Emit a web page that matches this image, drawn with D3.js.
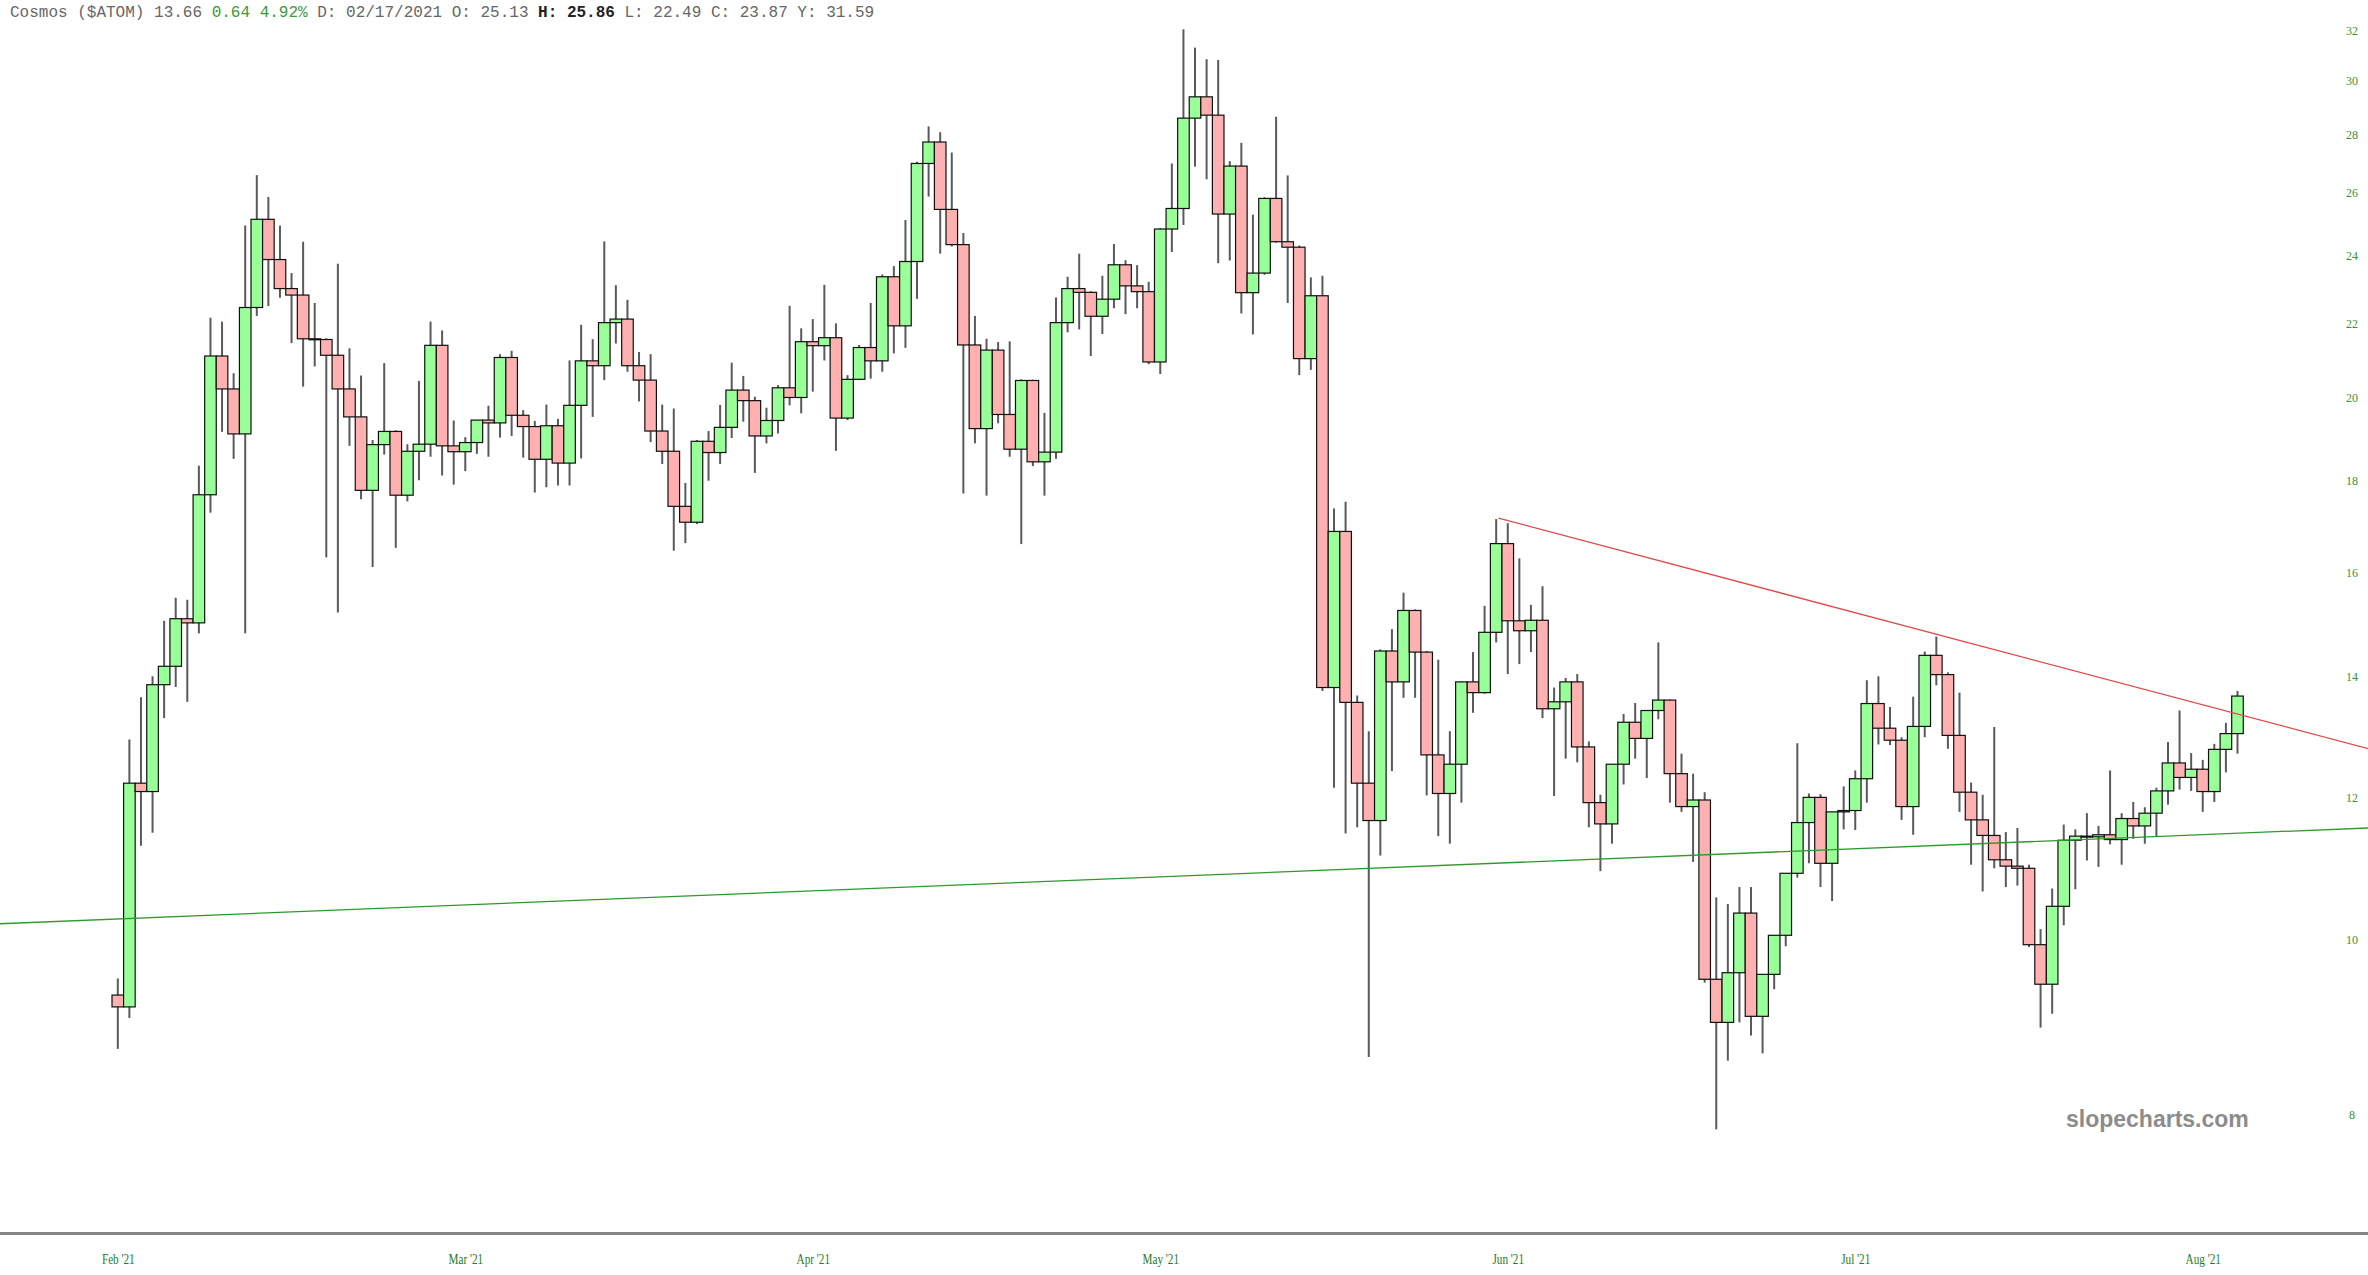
<!DOCTYPE html>
<html>
<head>
<meta charset="utf-8">
<script src="https://cdn.jsdelivr.net/npm/d3@7"></script>
<style>
  html, body { margin: 0; padding: 0; background: #ffffff; }
  svg { display: block; }
</style>
</head>
<body>
<svg id="chart" width="2368" height="1275"></svg>
<script>
// ---- Data (Cosmos $ATOM daily, Feb 4 2021 .. Aug 6 2021) ----
const opens = [
  9.32, 9.18, 12.22, 12.09, 13.86, 14.19, 15.08, 15.00, 17.67, 21.10,
  20.23, 19.10, 22.45, 25.13, 23.87, 23.00, 22.81, 21.57, 21.55, 21.12,
  20.23, 19.52, 17.77, 18.84, 19.16, 17.66, 18.68, 18.85, 21.39, 18.81,
  18.67, 18.89, 19.44, 19.37, 21.06, 19.56, 19.28, 18.49, 19.30, 18.40,
  19.81, 20.97, 20.84, 22.02, 22.12, 20.84, 20.46, 19.17, 18.68, 17.41,
  17.06, 18.92, 18.65, 19.26, 20.20, 19.93, 19.05, 19.43, 20.26, 20.01,
  21.49, 21.38, 21.60, 19.49, 20.48, 21.33, 20.97, 23.35, 21.93, 23.81,
  26.99, 27.74, 25.45, 24.33, 21.40, 19.23, 21.26, 19.58, 18.73, 20.45,
  18.43, 18.66, 22.02, 23.00, 22.89, 22.20, 22.69, 23.71, 23.08, 22.91,
  20.94, 24.82, 25.48, 28.60, 29.39, 28.71, 25.30, 26.90, 22.88, 23.46,
  25.81, 24.42, 24.25, 21.03, 22.79, 13.81, 16.86, 13.55, 12.22, 11.65,
  14.47, 13.91, 15.24, 14.45, 12.67, 12.06, 12.52, 13.91, 13.72, 14.82,
  16.60, 15.04, 14.85, 15.05, 13.44, 13.56, 13.91, 12.80, 11.92, 11.60,
  12.52, 13.21, 12.94, 13.41, 13.59, 12.37, 11.86, 11.96, 9.51, 9.00,
  9.59, 10.35, 9.07, 9.57, 10.06, 10.89, 11.62, 12.00, 11.03, 11.78,
  11.80, 12.29, 13.53, 13.11, 12.91, 11.86, 13.14, 14.39, 14.04, 12.99,
  12.08, 11.66, 11.43, 11.08, 10.99, 10.96, 9.94, 9.45, 10.44, 11.36,
  11.42, 11.41, 11.44, 11.37, 11.68, 11.57, 11.76, 12.10, 12.54, 12.31,
  12.44, 12.09, 12.76, 13.02
];
const highs = [
  9.52, 12.92, 13.64, 14.01, 15.04, 15.49, 15.45, 18.34, 22.16, 22.05,
  20.64, 24.93, 26.59, 25.86, 24.93, 23.46, 24.42, 22.58, 21.58, 23.74,
  21.31, 20.58, 18.95, 20.91, 19.19, 18.85, 20.44, 22.05, 21.80, 19.43,
  19.02, 19.44, 19.80, 21.15, 21.24, 19.69, 19.42, 19.83, 19.47, 20.98,
  21.96, 21.56, 24.43, 23.10, 22.67, 21.21, 21.15, 19.83, 19.73, 17.94,
  18.95, 19.17, 19.82, 20.92, 20.57, 20.03, 19.75, 20.33, 22.50, 21.86,
  22.12, 23.11, 22.00, 20.59, 21.40, 22.58, 23.42, 23.67, 25.11, 27.05,
  28.30, 28.09, 27.37, 24.69, 22.21, 21.57, 21.48, 21.50, 20.48, 20.47,
  19.62, 22.74, 23.35, 24.05, 22.92, 23.38, 24.35, 23.85, 23.70, 23.20,
  24.85, 26.99, 32.04, 31.30, 30.84, 30.81, 27.07, 27.71, 25.28, 25.85,
  28.65, 26.58, 24.30, 23.33, 23.38, 17.36, 17.51, 13.67, 13.06, 14.50,
  14.88, 15.59, 15.26, 14.47, 14.31, 13.06, 13.92, 14.45, 15.33, 17.13,
  17.04, 16.29, 15.35, 15.72, 13.81, 13.98, 14.05, 12.89, 12.04, 12.52,
  13.35, 13.54, 13.41, 14.63, 13.60, 12.69, 12.37, 12.08, 10.56, 10.47,
  10.70, 10.70, 9.57, 10.06, 10.89, 12.86, 12.06, 12.05, 11.78, 12.17,
  12.42, 13.94, 14.01, 13.47, 12.96, 13.65, 14.46, 14.74, 14.08, 13.72,
  12.23, 12.04, 13.13, 11.48, 11.54, 11.01, 10.14, 10.68, 11.59, 11.52,
  11.76, 11.57, 12.42, 11.76, 11.93, 11.85, 12.15, 12.88, 13.41, 12.70,
  12.59, 12.85, 13.20, 13.75
];
const lows = [
  8.70, 9.05, 11.28, 11.47, 13.28, 13.82, 13.56, 14.80, 17.27, 19.15,
  18.50, 14.80, 22.21, 22.49, 22.73, 21.45, 20.29, 20.82, 16.31, 15.20,
  18.81, 17.57, 16.11, 18.60, 16.51, 17.52, 18.00, 18.55, 18.11, 17.90,
  18.21, 18.62, 18.55, 19.01, 19.05, 18.53, 17.72, 17.84, 17.88, 17.88,
  18.51, 19.52, 20.46, 21.44, 20.68, 19.91, 18.90, 18.38, 16.45, 16.61,
  17.02, 17.99, 18.38, 19.00, 19.40, 18.17, 18.87, 19.11, 19.81, 19.61,
  20.16, 20.98, 18.69, 19.44, 20.46, 20.50, 20.68, 21.17, 21.32, 22.70,
  25.87, 24.05, 24.27, 17.70, 18.87, 17.65, 19.36, 18.55, 16.59, 18.33,
  17.65, 18.50, 21.75, 21.83, 21.10, 21.70, 22.43, 22.26, 22.43, 20.88,
  20.62, 24.10, 24.95, 26.88, 26.45, 23.76, 23.84, 22.28, 21.69, 23.41,
  24.39, 22.58, 20.59, 20.73, 13.75, 12.15, 11.46, 11.55, 8.61, 11.14,
  12.41, 13.63, 13.63, 12.03, 11.42, 11.31, 11.92, 13.37, 13.70, 14.63,
  14.05, 14.23, 14.45, 13.28, 12.02, 12.61, 12.55, 11.55, 10.92, 11.31,
  12.20, 12.61, 12.30, 13.26, 11.92, 11.78, 11.05, 9.47, 7.85, 8.57,
  9.00, 8.85, 8.65, 9.39, 9.92, 10.83, 11.03, 10.70, 10.51, 11.52,
  11.51, 11.92, 12.84, 12.83, 11.66, 11.44, 12.96, 13.85, 12.77, 11.78,
  11.01, 10.64, 10.96, 10.70, 10.72, 9.91, 8.94, 9.10, 10.19, 10.67,
  11.07, 10.98, 11.30, 11.01, 11.38, 11.31, 11.42, 11.89, 12.12, 12.10,
  11.78, 11.93, 12.39, 12.69
];
const closes = [
  9.18, 12.22, 12.09, 13.86, 14.19, 15.08, 15.00, 17.67, 21.10, 20.23,
  19.10, 22.45, 25.13, 23.87, 23.00, 22.81, 21.57, 21.55, 21.12, 20.23,
  19.52, 17.77, 18.84, 19.16, 17.66, 18.68, 18.85, 21.39, 18.81, 18.67,
  18.89, 19.44, 19.37, 21.06, 19.56, 19.28, 18.49, 19.30, 18.40, 19.81,
  20.97, 20.84, 22.02, 22.12, 20.84, 20.46, 19.17, 18.68, 17.41, 17.06,
  18.92, 18.65, 19.26, 20.20, 19.93, 19.05, 19.43, 20.26, 20.01, 21.49,
  21.38, 21.60, 19.49, 20.48, 21.33, 20.97, 23.35, 21.93, 23.81, 26.99,
  27.74, 25.45, 24.33, 21.40, 19.23, 21.26, 19.58, 18.73, 20.45, 18.43,
  18.66, 22.02, 23.00, 22.89, 22.20, 22.69, 23.71, 23.08, 22.91, 20.94,
  24.82, 25.48, 28.60, 29.39, 28.71, 25.30, 26.90, 22.88, 23.46, 25.81,
  24.42, 24.25, 21.03, 22.79, 13.81, 16.86, 13.55, 12.22, 11.65, 14.47,
  13.91, 15.24, 14.45, 12.67, 12.06, 12.52, 13.91, 13.72, 14.82, 16.60,
  15.04, 14.85, 15.05, 13.44, 13.56, 13.91, 12.80, 11.92, 11.60, 12.52,
  13.21, 12.94, 13.41, 13.59, 12.37, 11.86, 11.96, 9.51, 9.00, 9.59,
  10.35, 9.07, 9.57, 10.06, 10.89, 11.62, 12.00, 11.03, 11.78, 11.80,
  12.29, 13.53, 13.11, 12.91, 11.86, 13.14, 14.39, 14.04, 12.99, 12.08,
  11.66, 11.43, 11.08, 10.99, 10.96, 9.94, 9.45, 10.44, 11.36, 11.42,
  11.41, 11.44, 11.37, 11.68, 11.57, 11.76, 12.10, 12.54, 12.31, 12.44,
  12.09, 12.76, 13.02, 13.66
];

const yTickValues = [8, 10, 12, 14, 16, 18, 20, 22, 24, 26, 28, 30, 32];
const xTickIndex = [0, 30, 60, 90, 120, 150, 180];
const xTickLabels = ["Feb '21", "Mar '21", "Apr '21", "May '21", "Jun '21", "Jul '21", "Aug '21"];

// trend lines: [candle index, price]
const redTrend = [[119.2, 17.15], [194.3, 12.77]];
const greenTrend = [[-10.17, 10.21], [194.3, 11.54]];

const headerParts = [
  { text: "Cosmos ($ATOM) 13.66 ", cls: "g" },
  { text: "0.64 4.92%", cls: "up" },
  { text: " D: 02/17/2021 O: 25.13 ", cls: "g" },
  { text: "H: 25.86", cls: "b" },
  { text: " L: 22.49 C: 23.87 Y: 31.59", cls: "g" }
];

// ---- Drawing ----
const W = 2368, H = 1275;
const svg = d3.select("#chart");
const n = opens.length;
const step = 11.583;
const x = d3.scaleLinear().domain([0, n - 1]).range([117.8, 117.8 + step * (n - 1)]);
const y = d3.scaleLog().domain([8, 32]).range([1114.5, 30.3]);

const candles = d3.range(n).map(i => ({ i, o: opens[i], h: highs[i], l: lows[i], c: closes[i] }));

// wicks
svg.append("g").selectAll("line").data(candles).join("line")
  .attr("x1", d => x(d.i)).attr("x2", d => x(d.i))
  .attr("y1", d => y(d.h)).attr("y2", d => y(d.l))
  .attr("stroke", "#5a5a5a").attr("stroke-width", 2);

// bodies
const bw = step;
svg.append("g").selectAll("rect").data(candles).join("rect")
  .attr("x", d => x(d.i) - bw / 2)
  .attr("width", bw)
  .attr("y", d => y(Math.max(d.o, d.c)))
  .attr("height", d => Math.max(1, Math.abs(y(d.o) - y(d.c))))
  .attr("fill", d => d.c >= d.o ? "#99ff99" : "#ffb0b0")
  .attr("stroke", "#111")
  .attr("stroke-width", 1.2);

// trend lines
const line = d3.line().x(d => x(d[0])).y(d => y(d[1]));
svg.append("path").datum(greenTrend).attr("d", line)
  .attr("fill", "none").attr("stroke", "#2e9a2e").attr("stroke-width", 1.3);
svg.append("path").datum(redTrend).attr("d", line)
  .attr("fill", "none").attr("stroke", "#e04848").attr("stroke-width", 1.3);

// y axis labels (right)
const yAxis = d3.axisRight(y).tickValues(yTickValues).tickFormat(d3.format("d")).tickSize(0);
const gy = svg.append("g").attr("transform", "translate(2340,0)").call(yAxis);
gy.select(".domain").remove();
gy.selectAll("text")
  .attr("x", 12).attr("dy", "0.32em")
  .attr("text-anchor", "middle")
  .attr("fill", "#3b8f3b")
  .style("font-family", "'Liberation Serif', serif")
  .style("font-size", "12px");

// x axis baseline
svg.append("line").attr("x1", 0).attr("x2", W).attr("y1", 1233.5).attr("y2", 1233.5)
  .attr("stroke", "#858585").attr("stroke-width", 3);

// x axis labels
const xAxis = d3.axisBottom(x).tickValues(xTickIndex)
  .tickFormat((d, k) => xTickLabels[k]).tickSize(0);
const gx = svg.append("g").attr("transform", "translate(0,1236)").call(xAxis);
gx.select(".domain").remove();
gx.selectAll("text")
  .attr("y", 18)
  .attr("fill", "#1f7a1f")
  .style("font-family", "'Liberation Serif', serif")
  .style("font-size", "14px")
  .attr("transform", function() { return null; });
gx.selectAll(".tick").each(function() {
  const t = d3.select(this).select("text");
  t.attr("transform", "scale(0.8,1)");
  const tr = d3.select(this).attr("transform");
  const m = /translate\(([-\d.]+)/.exec(tr);
  if (m) {
    const tx = +m[1];
    d3.select(this).attr("transform", `translate(${tx},0)`);
  }
});

// header
const header = svg.append("text")
  .attr("x", 10).attr("y", 17)
  .attr("xml:space", "preserve")
  .style("font-family", "'Liberation Mono', monospace")
  .style("font-size", "16px");
headerParts.forEach(p => {
  header.append("tspan").text(p.text)
    .attr("fill", p.cls === "up" ? "#3c9a3c" : (p.cls === "b" ? "#222" : "#666"))
    .attr("font-weight", p.cls === "b" ? "bold" : "normal");
});

// watermark
svg.append("text")
  .attr("x", 2066).attr("y", 1127)
  .attr("fill", "#8c8c8c")
  .style("font-family", "'Liberation Sans', Arial, sans-serif")
  .style("font-weight", "bold")
  .style("font-size", "23px")
  .text("slopecharts.com");
</script>
</body>
</html>
